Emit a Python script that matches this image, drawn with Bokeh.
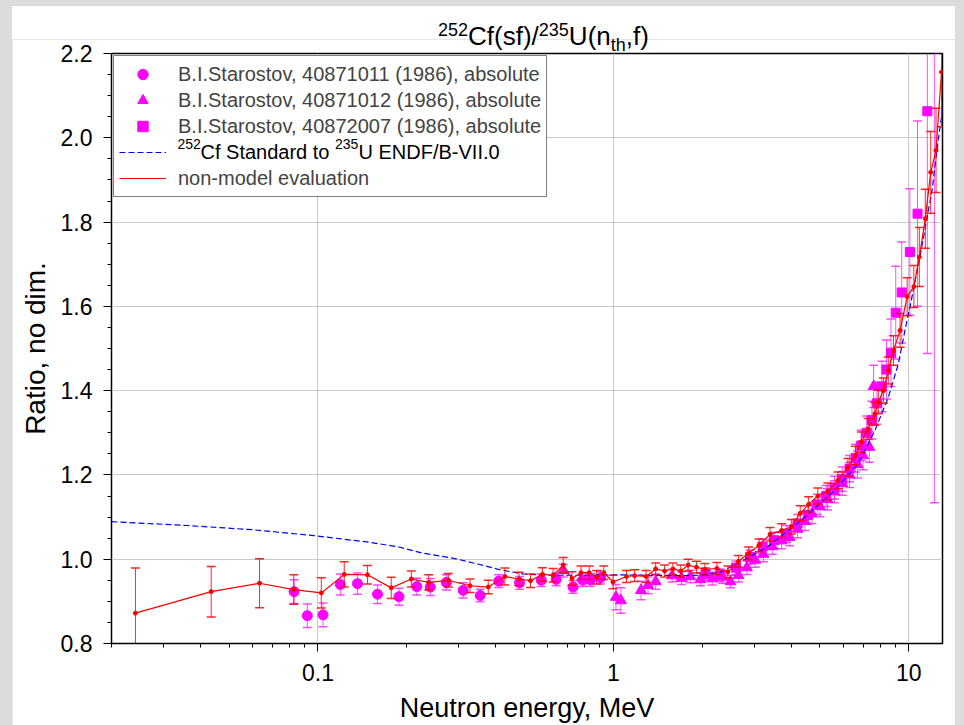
from bokeh.plotting import figure
from bokeh.models import (ColumnDataSource, FixedTicker, Legend, LegendItem, Label,
                          PrintfTickFormatter, Range1d, BoxAnnotation, Div)
from bokeh.layouts import column
from bokeh.embed import file_html
from bokeh.resources import INLINE

FONT = "Liberation Sans"

# ---- B.I.Starostov, 40871011 (1986), absolute ----
cir_e = [0.083, 0.092, 0.104, 0.119, 0.136, 0.159, 0.188, 0.216, 0.240, 0.272,
         0.310, 0.354, 0.409, 0.481, 0.570, 0.640, 0.730, 0.787, 0.836, 0.905]
cir_r = [0.923, 0.866, 0.868, 0.940, 0.942, 0.917, 0.911, 0.935, 0.934, 0.945,
         0.926, 0.914, 0.948, 0.944, 0.950, 0.952, 0.934, 0.950, 0.951, 0.956]
cir_err = [0.028, 0.028, 0.028, 0.025, 0.025, 0.022, 0.020, 0.020, 0.020, 0.018,
           0.018, 0.015, 0.015, 0.015, 0.015, 0.015, 0.015, 0.015, 0.015, 0.015]

# ---- B.I.Starostov, 40871012 (1986), absolute ----
tri_e = [0.676, 1.02, 1.06, 1.24, 1.31, 1.39, 1.58, 1.70, 1.82, 1.97,
         2.16, 2.34, 2.49, 2.65, 2.83, 3.02, 3.22, 3.45, 3.71, 3.95,
         4.20, 4.45, 4.70, 5.00, 5.30, 5.60, 5.95, 6.30, 6.70, 7.00,
         7.35, 7.60]
tri_r = [0.973, 0.910, 0.902, 0.926, 0.938, 0.947, 0.961, 0.955, 0.959, 0.952,
         0.954, 0.958, 0.947, 0.962, 0.980, 0.998, 1.012, 1.030, 1.044, 1.052,
         1.072, 1.090, 1.108, 1.125, 1.142, 1.160, 1.180, 1.200, 1.225, 1.246,
         1.266, 1.410]
tri_err = [0.015, 0.030, 0.030, 0.022, 0.020, 0.018, 0.015, 0.015, 0.015, 0.015,
           0.015, 0.015, 0.015, 0.016, 0.016, 0.017, 0.018, 0.018, 0.019, 0.020,
           0.021, 0.022, 0.023, 0.024, 0.025, 0.026, 0.028, 0.030, 0.032, 0.034,
           0.036, 0.050]

# ---- B.I.Starostov, 40872007 (1986), absolute ----
sq_e = [2.05, 2.30, 2.60, 2.90, 3.20, 3.50, 3.85, 4.20, 4.55, 4.90,
        5.25, 5.60, 5.95, 6.30, 6.60, 6.90, 7.20, 7.50, 7.80, 8.10,
        8.40, 8.70, 9.03, 9.46, 10.08, 10.70, 11.55, 12.20]
sq_r = [0.965, 0.962, 0.980, 1.005, 1.030, 1.045, 1.060, 1.085, 1.105, 1.130,
        1.150, 1.170, 1.190, 1.215, 1.240, 1.270, 1.300, 1.330, 1.370, 1.410,
        1.450, 1.490, 1.585, 1.633, 1.729, 1.820, 2.063, 2.400]
sq_err = [0.015, 0.015, 0.016, 0.017, 0.018, 0.019, 0.020, 0.021, 0.022, 0.024,
          0.025, 0.027, 0.029, 0.031, 0.033, 0.036, 0.040, 0.045, 0.050, 0.060,
          0.070, 0.080, 0.110, 0.120, 0.150, 0.220, 0.575, 1.266]

# ---- non-model evaluation ----
eval_e = [0.0241, 0.0435, 0.0634, 0.0828, 0.1026, 0.1227, 0.147, 0.177, 0.207, 0.237,
          0.276, 0.327, 0.377, 0.429, 0.479, 0.524, 0.575, 0.625, 0.676, 0.724,
          0.777, 0.828, 0.878, 0.928, 0.997, 1.107, 1.18, 1.29, 1.39, 1.49,
          1.59, 1.69, 1.79, 1.91, 2.04, 2.24, 2.44, 2.65, 2.87, 3.11,
          3.39, 3.71, 4.00, 4.29, 4.58, 4.92, 5.32, 5.75, 6.22, 6.59,
          6.91, 7.28, 7.67, 7.88, 8.20, 8.52, 8.87, 9.34, 9.87, 10.4,
          10.85, 11.37, 11.86, 12.36, 12.9]
eval_r = [0.872, 0.923, 0.943, 0.928, 0.920, 0.964, 0.963, 0.932, 0.953, 0.945,
          0.950, 0.937, 0.934, 0.959, 0.953, 0.949, 0.964, 0.962, 0.986, 0.954,
          0.968, 0.968, 0.957, 0.968, 0.946, 0.959, 0.961, 0.959, 0.977, 0.972,
          0.977, 0.972, 0.986, 0.981, 0.976, 0.978, 0.970, 0.995, 1.014, 1.033,
          1.059, 1.068, 1.077, 1.109, 1.130, 1.150, 1.161, 1.187, 1.218, 1.246,
          1.278, 1.309, 1.345, 1.373, 1.400, 1.448, 1.495, 1.543, 1.623, 1.647,
          1.717, 1.808, 1.918, 1.970, 2.156]
eval_err = [0.107, 0.060, 0.058, 0.035, 0.036, 0.030, 0.022, 0.025, 0.019, 0.018,
            0.016, 0.016, 0.016, 0.020, 0.016, 0.016, 0.016, 0.016, 0.018, 0.016,
            0.016, 0.016, 0.016, 0.016, 0.016, 0.014, 0.014, 0.014, 0.014, 0.014,
            0.014, 0.014, 0.014, 0.014, 0.014, 0.014, 0.014, 0.014, 0.015, 0.015,
            0.016, 0.016, 0.017, 0.018, 0.018, 0.019, 0.020, 0.020, 0.021, 0.022,
            0.024, 0.025, 0.027, 0.028, 0.030, 0.032, 0.035, 0.040, 0.045, 0.050,
            0.070, 0.070, 0.097, 0.100, 0.130]

# ---- 252Cf standard to 235U ENDF/B-VII.0 ----
endf_e = [0.02, 0.036, 0.06, 0.097, 0.15, 0.188, 0.224, 0.293, 0.35, 0.413,
          0.494, 0.6, 0.8, 1.0, 1.3, 1.72, 1.96, 2.3, 2.55, 3.3,
          4.32, 5.6, 6.73, 7.67, 8.52, 9.22, 9.7, 10.1, 10.9, 11.98,
          12.6, 13.1]
endf_r = [1.089, 1.080, 1.070, 1.056, 1.040, 1.029, 1.015, 1.001, 0.988, 0.975,
          0.965, 0.962, 0.962, 0.963, 0.962, 0.961, 0.962, 0.969, 0.985, 1.028,
          1.092, 1.163, 1.226, 1.305, 1.384, 1.464, 1.543, 1.600, 1.717, 1.875,
          2.000, 2.080]

# ---- axes ----
x_major = [0.1, 1, 10]
x_labels = ["0.1", "1", "10"]
x_minor = [m * 10.0 ** k for k in (-2, -1, 0, 1) for m in range(2, 10)
           if 0.02 <= m * 10.0 ** k <= 13]
y_major = [0.8, 1.0, 1.2, 1.4, 1.6, 1.8, 2.0, 2.2]
y_minor = [round(0.8 + 0.05 * i, 2) for i in range(29) if i % 4]

MAGENTA = "#ff00ff"
RED = "#ff0000"
BLUE = "#0000ff"

PAGE_W, PAGE_H = 964, 725
OX, OY = 12, 6               # offset of the white panel inside the page
PANEL_W = 943
TITLE_H = 33                 # title strip above the figure canvas
FIG_H = PAGE_H - OY - TITLE_H
FRAME_L, FRAME_T, FRAME_B = 111, 53, 643  # page position of the frame edges
LABEL_DY = 7                 # baseline correction for screen-positioned labels

sup = '<span style="font-size:18px;vertical-align:9px;line-height:0">{}</span>'
sub = '<span style="font-size:18px;vertical-align:-6px;line-height:0">{}</span>'
title = Div(
    text=sup.format("252") + "Cf(sf)/" + sup.format("235") + "U(n" + sub.format("th") + ",f)",
    width=PANEL_W, height=TITLE_H,
    styles={"background-color": "white", "font-family": FONT, "font-size": "26px",
            "color": "black", "line-height": "26px", "padding-top": "17px",
            "padding-left": f"{438 - OX}px", "box-sizing": "border-box",
            "white-space": "nowrap", "overflow": "visible",
            "position": "relative", "z-index": "5"},
)
title.margin = (OY, PAGE_W - OX - PANEL_W, 0, OX)

p = figure(title=None, width=PANEL_W, height=FIG_H, x_axis_type="log",
           x_range=Range1d(0.02, 13), y_range=Range1d(0.8, 2.2),
           output_backend="svg", toolbar_location=None,
           min_border_left=FRAME_L - OX, min_border_right=13,
           min_border_top=FRAME_T - OY - TITLE_H, min_border_bottom=PAGE_H - FRAME_B)
p.margin = (0, PAGE_W - OX - PANEL_W, 0, OX)
p.background_fill_color = "white"
p.border_fill_color = "white"
p.outline_line_color = "black"
p.outline_line_width = 1.5

# axes
for ax in (p.xaxis[0], p.yaxis[0]):
    ax.axis_line_color = "black"
    ax.major_tick_line_color = "black"
    ax.minor_tick_line_color = "black"
    ax.major_tick_out = 8
    ax.major_tick_in = 0
    ax.minor_tick_out = 4
    ax.minor_tick_in = 0
    ax.major_label_text_font = FONT
    ax.major_label_text_font_size = "23px"
    ax.major_label_text_color = "black"
    ax.axis_label_text_font = FONT
    ax.axis_label_text_font_style = "normal"
    ax.axis_label_text_color = "black"

p.xaxis.ticker = FixedTicker(ticks=x_major, minor_ticks=x_minor)
p.xaxis.major_label_overrides = dict(zip(x_major, x_labels))
p.xaxis.major_label_standoff = 12
p.xaxis.axis_label = "Neutron energy, MeV"
p.xaxis.axis_label_text_font_size = "27px"
p.xaxis.axis_label_standoff = 9

p.yaxis.ticker = FixedTicker(ticks=y_major, minor_ticks=y_minor)
p.yaxis.formatter = PrintfTickFormatter(format="%.1f")
p.yaxis.major_label_standoff = 11
p.yaxis.axis_label = "Ratio, no dim."
p.yaxis.axis_label_text_font_size = "28px"
p.yaxis.axis_label_standoff = 7

p.xgrid.ticker = FixedTicker(ticks=x_major)
p.ygrid.ticker = FixedTicker(ticks=y_major)
p.grid.grid_line_color = "#c8c8c8"
p.grid.grid_line_width = 1


def error_bars(e, r, err, color, alpha, cap):
    src = ColumnDataSource(dict(x=e,
                                lo=[v - d for v, d in zip(r, err)],
                                hi=[v + d for v, d in zip(r, err)]))
    p.segment(x0="x", y0="lo", x1="x", y1="hi", source=src,
              line_color=color, line_alpha=alpha, line_width=1)
    for col in ("lo", "hi"):
        p.scatter(x="x", y=col, source=src, marker="dash", size=cap,
                  line_color=color, line_alpha=alpha, line_width=1.5)


# experimental data
error_bars(cir_e, cir_r, cir_err, MAGENTA, 0.7, 9)
error_bars(tri_e, tri_r, tri_err, MAGENTA, 0.7, 9)
error_bars(sq_e, sq_r, sq_err, MAGENTA, 0.7, 9)
r_cir = p.scatter(cir_e, cir_r, marker="circle", size=10,
                  fill_color=MAGENTA, line_color=MAGENTA)
r_tri = p.scatter(tri_e, tri_r, marker="triangle", size=11,
                  fill_color=MAGENTA, line_color=MAGENTA)
r_sq = p.scatter(sq_e, sq_r, marker="square", size=9,
                 fill_color=MAGENTA, line_color=MAGENTA)

# ENDF/B-VII.0 ratio
r_endf = p.line(endf_e, endf_r, line_color=BLUE, line_width=1.2, line_dash="6 3")

# evaluation
error_bars(eval_e, eval_r, eval_err, RED, 0.85, 9)
r_eval = p.line(eval_e, eval_r, line_color=RED, line_width=1.2)
p.scatter(eval_e, eval_r, marker="circle", size=4, fill_color=RED, line_color=RED)

# legend: a white panel underneath, then a transparent Legend on top of it
LEG_L, LEG_T, LEG_R, LEG_B = 113, 55, 546, 195
p.add_layout(BoxAnnotation(left=LEG_L - FRAME_L, right=LEG_R - FRAME_L,
                           top=FRAME_B - LEG_T, bottom=FRAME_B - LEG_B,
                           left_units="screen", right_units="screen",
                           top_units="screen", bottom_units="screen",
                           fill_color="white", fill_alpha=1, line_alpha=0,
                           level="annotation"))

legend = Legend(items=[
    LegendItem(label="B.I.Starostov, 40871011 (1986), absolute", renderers=[r_cir]),
    LegendItem(label="B.I.Starostov, 40871012 (1986), absolute", renderers=[r_tri]),
    LegendItem(label="B.I.Starostov, 40872007 (1986), absolute", renderers=[r_sq]),
    LegendItem(label=" ", renderers=[r_endf]),
    LegendItem(label="non-model evaluation", renderers=[r_eval]),
], location="top_left", margin=LEG_L - FRAME_L, padding=5, spacing=0,
    glyph_width=47, glyph_height=26, label_height=26, label_standoff=12,
    label_text_font=FONT, label_text_font_size="20px",
    border_line_color="black", border_line_width=1,
    background_fill_alpha=0)
p.add_layout(legend)


def run(text, x, y, size):
    # x, y: page position of the text's left end and baseline
    p.add_layout(Label(x=x - FRAME_L, y=FRAME_B - y + LABEL_DY,
                       x_units="screen", y_units="screen",
                       text=text, text_font=FONT, text_font_size=size,
                       text_color="black", text_align="left",
                       text_baseline="alphabetic", level="overlay"))


# legend entry: 252Cf Standard to 235U ENDF/B-VII.0
run("252", 177, 150, "14px")
run("Cf Standard to", 200, 158, "20px")
run("235", 334.5, 150, "14px")
run("U ENDF/B-VII.0", 358, 158, "20px")

root = column(title, p, styles={"background-color": "#dcdcdc"})
open("out.html", "w").write(file_html(root, INLINE))
